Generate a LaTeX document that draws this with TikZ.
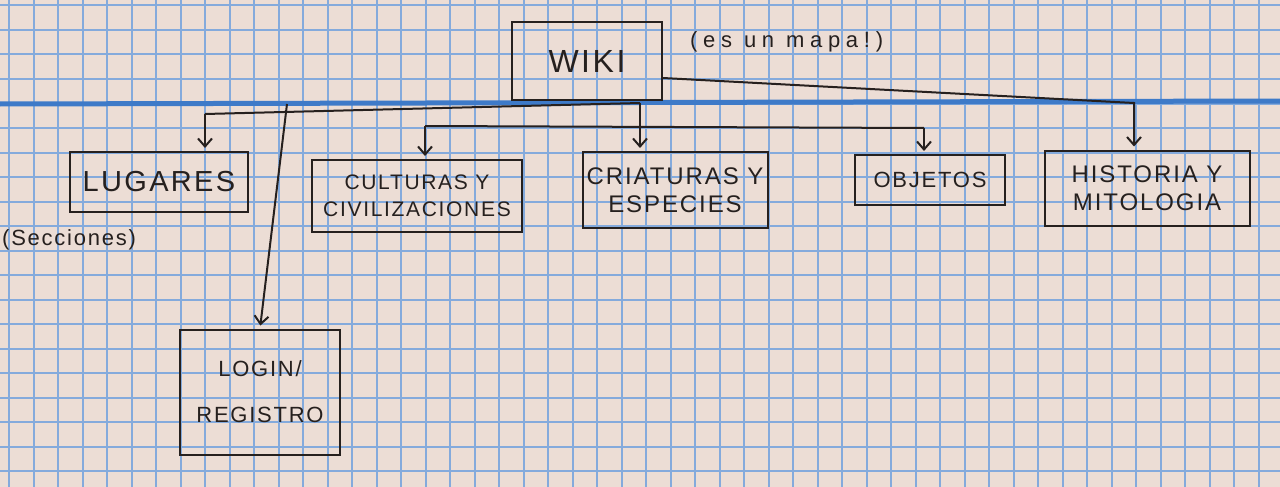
\documentclass[tikz,border=0pt]{standalone}
\usepackage{fontspec}
\newfontfamily\hand[LetterSpace=8]{Liberation Sans}
\usetikzlibrary{arrows.meta}
\definecolor{paper}{RGB}{236,221,213}
\definecolor{gridblue}{RGB}{132,170,220}
\definecolor{rule}{RGB}{62,122,200}
\definecolor{ink}{RGB}{38,32,30}
\tikzstyle{card}=[draw=ink, line width=2pt, inner sep=0pt, align=center, text=ink]
\tikzstyle{note}=[inner sep=0pt, text=ink, font=\hand\fontsize{22}{26}\selectfont]
\tikzstyle{link}=[draw=ink, line width=2pt]
\tikzstyle{arr}=[link, shorten >=3pt, -{Straight Barb[length=8pt,width=14pt,line width=2pt]}]
\newcommand{\card}{\node[card]}

\begin{document}
\begin{tikzpicture}[x=1pt, y=-1pt]
\fill[paper] (0,0) rectangle (1280,487);
\useasboundingbox (0,0) rectangle (1280,487);
\foreach \gx in {9,33.5,...,1280} \draw[gridblue, line width=2pt] (\gx,0) -- (\gx,487);
\foreach \gy in {5.5,30,...,487} \draw[gridblue, line width=2pt] (0,\gy) -- (1280,\gy);
\draw[rule, line width=5pt] (0,104) -- (1280,101);

\card[minimum width=150pt, minimum height=78pt, font=\hand\fontsize{32}{36}\selectfont] (wiki) at (587,61) {WIKI};
\card[minimum width=178pt, minimum height=60pt, font=\hand\fontsize{29}{34}\selectfont] (lugares) at (159,182) {LUGARES};
\card[minimum width=210pt, minimum height=72pt, font=\hand\fontsize{21}{27}\selectfont] (culturas) at (417,196) {CULTURAS Y\\CIVILIZACIONES};
\card[minimum width=185pt, minimum height=76pt, font=\hand\fontsize{24}{28}\selectfont] (criaturas) at (675,190) {CRIATURAS Y\\ESPECIES};
\card[minimum width=150pt, minimum height=50pt, font=\hand\fontsize{22}{26}\selectfont] (objetos) at (930,180) {OBJETOS};
\card[minimum width=205pt, minimum height=75pt, font=\hand\fontsize{24}{28}\selectfont] (historia) at (1147,188) {HISTORIA Y\\MITOLOGIA};
\card[minimum width=160pt, minimum height=125pt, font=\hand\fontsize{22}{46}\selectfont] (login) at (260,392) {LOGIN/\\REGISTRO};

\node[note, anchor=west, font=\hand\fontsize{22}{26}\selectfont\addfontfeature{LetterSpace=26}] (mapa) at (690,42) {(es un mapa!)};
\node[note, anchor=west] (secciones) at (2,240) {(Secciones)};

\coordinate (bl) at (205,114);
\coordinate (tc) at (640,103);
\coordinate (tl) at (287,104);
\coordinate (bc) at (425,126);
\coordinate (bo) at (924,128);
\coordinate (bh) at (1134,103);

\draw[link] (bl) -- (tc);
\draw[arr] (bl) -- (bl |- lugares.north);
\draw[arr] (tc) -- (tc |- criaturas.north);
\draw[arr] (tl) -- (login.north);
\draw[link] (bc) -- (bo);
\draw[arr] (bc) -- (bc |- culturas.north);
\draw[arr] (bo) -- (bo |- objetos.north);
\draw[arr] ([yshift=-17pt]wiki.east) -- (bh) -- (bh |- historia.north);
\end{tikzpicture}
\end{document}
